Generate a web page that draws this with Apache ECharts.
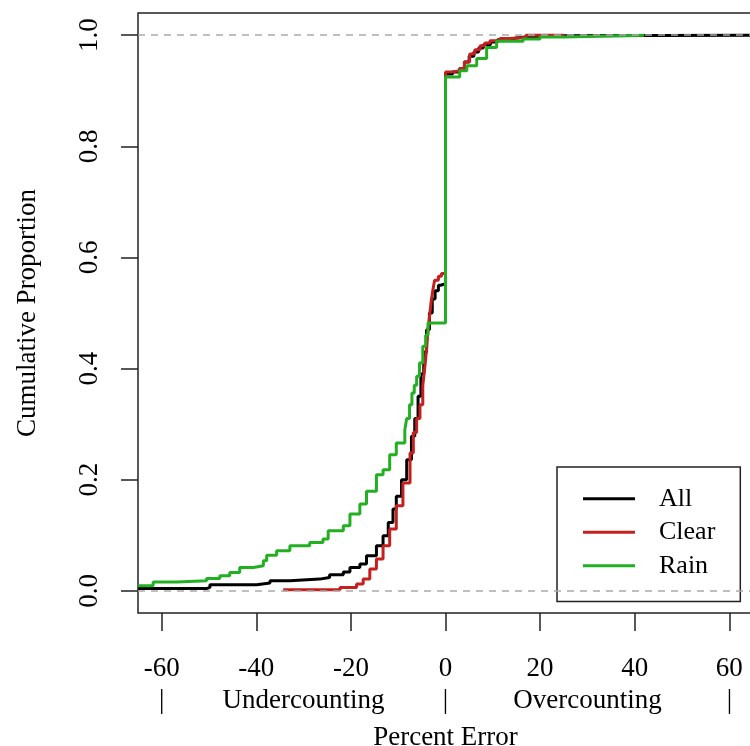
<!DOCTYPE html>
<html>
<head>
<meta charset="utf-8">
<script src="https://cdn.jsdelivr.net/npm/echarts@6/dist/echarts.min.js"></script>
<style>
  html, body { margin: 0; padding: 0; background: #fff; }
  #chart { width: 750px; height: 746px; }
</style>
</head>
<body>
<div id="chart"></div>
<script>
// cumulative proportion of percent error
const allX = [-65, -50.5, -49.8, -39.9, -37.1, -32.9, -26.6, -24.5, -21.6, -20.2, -18.1, -16.7, -14.6, -13.2, -12.1, -11.1, -10.4, -9.3, -8.2, -7.2, -6.5, -5.8, -5.2, -4.6, -4, -3.4, -2.8, -2.2, -1.5, -1, 0, 1.5, 3, 4, 5, 6, 7, 8, 9.5, 11, 13, 15, 17, 20, 25, 65]
const allY = [0.004, 0.006, 0.011, 0.014, 0.018, 0.021, 0.024, 0.029, 0.034, 0.042, 0.048, 0.063, 0.081, 0.099, 0.123, 0.147, 0.170, 0.200, 0.236, 0.278, 0.310, 0.350, 0.390, 0.430, 0.470, 0.500, 0.525, 0.540, 0.550, 0.553, 0.930, 0.934, 0.940, 0.952, 0.962, 0.970, 0.977, 0.983, 0.988, 0.992, 0.995, 0.997, 0.998, 0.999, 1.0, 1.0]

const clearX = [-34.3, -25.1, -22.3, -18.8, -17.4, -16, -14.6, -13.2, -11.8, -10.4, -9, -7.5, -6.8, -6.1, -5.4, -4.8, -4.4, -4, -3.7, -3.3, -3, -2.6, -2.3, -1.5, -0.85, 0, 1.5, 3, 4, 5.1, 6.2, 7.3, 8.3, 9.4, 11.5, 13.6, 17, 25]
const clearY = [0.002, 0.002, 0.006, 0.012, 0.021, 0.039, 0.057, 0.081, 0.111, 0.153, 0.194, 0.248, 0.285, 0.310, 0.335, 0.370, 0.400, 0.435, 0.470, 0.500, 0.523, 0.545, 0.559, 0.566, 0.571, 0.934, 0.936, 0.940, 0.952, 0.966, 0.974, 0.981, 0.986, 0.990, 0.994, 0.996, 1.0, 1.0]

const rainX = [-65, -61.8, -56.8, -50.5, -47.7, -45.6, -43.5, -40.6, -38.5, -37.8, -35.7, -32.9, -28.7, -25.9, -24.8, -21.6, -20.2, -18.1, -16.7, -14.6, -13.2, -11.8, -10.4, -8.6, -8.2, -7.6, -7.1, -6.6, -6.1, -5.5, -4.8, -4.2, -3.7, 0, 3, 4.5, 6.6, 8.7, 10.8, 16.4, 20, 25, 42]
const rainY = [0.009, 0.016, 0.018, 0.022, 0.027, 0.033, 0.042, 0.045, 0.054, 0.064, 0.072, 0.081, 0.087, 0.093, 0.108, 0.117, 0.138, 0.156, 0.179, 0.209, 0.218, 0.245, 0.266, 0.290, 0.310, 0.335, 0.356, 0.370, 0.386, 0.410, 0.440, 0.460, 0.482, 0.925, 0.936, 0.945, 0.958, 0.978, 0.989, 0.993, 0.997, 1.0, 1.0]

const seriesNames = ['All', 'Clear', 'Rain']
const xTicks = [-60, -40, -20, 0, 20, 40, 60]
const yTicks = [0, 0.2, 0.4, 0.6, 0.8, 1]
const sideTicks = [-60, -30, 0, 30, 60]
const sideLabels = ['|', 'Undercounting', '|', 'Overcounting', '|']
const refLines = [0, 1]

const font = "'Liberation Serif', 'DejaVu Serif', serif"

function toPairs(xs, ys) {
  return xs.map((x, i) => [x, ys[i]])
}

function makeSeries(name, xs, ys, color) {
  return {
    name: name,
    type: 'line',
    step: 'end',
    symbol: 'none',
    data: toPairs(xs, ys),
    lineStyle: { color: color, width: 3 },
    itemStyle: { color: color }
  }
}

const chart = echarts.init(document.getElementById('chart'))

// dashed reference lines drawn over the curves, like abline in R
const rain = makeSeries('Rain', rainX, rainY, '#22b022')
rain.markLine = {
  silent: true,
  symbol: 'none',
  label: { show: false },
  lineStyle: { color: '#aaaaaa', width: 1.5, type: [7, 6] },
  data: refLines.map((v) => ({ yAxis: v }))
}

chart.setOption({
  animation: false,
  backgroundColor: '#fff',
  grid: {
    left: 138,
    top: 13,
    width: 615,
    height: 600,
    show: true,
    borderColor: '#222',
    borderWidth: 1.5,
    outerBoundsMode: 'none'
  },
  legend: {
    data: seriesNames,
    orient: 'vertical',
    left: 557,
    top: 467,
    icon: 'rect',
    itemWidth: 52,
    itemHeight: 3,
    itemGap: 0,
    padding: [15, 25, 19, 26],
    borderColor: '#222',
    borderWidth: 1.5,
    backgroundColor: '#fff',
    selectedMode: false,
    textStyle: {
      fontFamily: font,
      fontSize: 26,
      color: '#000',
      lineHeight: 33.5,
      padding: [0, 0, 0, 19]
    }
  },
  xAxis: [
    {
      type: 'value',
      min: -65,
      max: 65,
      name: 'Percent Error',
      nameLocation: 'middle',
      nameGap: 111,
      nameTextStyle: { fontFamily: font, fontSize: 27, color: '#000' },
      axisLine: { show: false, onZero: false },
      splitLine: { show: false },
      axisTick: {
        customValues: xTicks,
        length: 18,
        lineStyle: { color: '#222', width: 1.5 }
      },
      axisLabel: {
        customValues: xTicks,
        margin: 42,
        fontFamily: font,
        fontSize: 27,
        color: '#000'
      }
    },
    {
      type: 'value',
      min: -65,
      max: 65,
      position: 'bottom',
      axisLine: { show: false, onZero: false },
      splitLine: { show: false },
      axisTick: { show: false },
      axisLabel: {
        customValues: sideTicks,
        margin: 74,
        fontFamily: font,
        fontSize: 27,
        color: '#000',
        formatter: (v) => sideLabels[sideTicks.indexOf(v)]
      }
    }
  ],
  yAxis: {
    type: 'value',
    min: -0.04,
    max: 1.04,
    name: 'Cumulative Proportion',
    nameLocation: 'middle',
    nameGap: 97,
    nameTextStyle: { fontFamily: font, fontSize: 27, color: '#000' },
    axisLine: { show: false, onZero: false },
    splitLine: { show: false },
    axisTick: {
      customValues: yTicks,
      length: 17,
      lineStyle: { color: '#222', width: 1.5 }
    },
    axisLabel: {
      customValues: yTicks,
      rotate: 90,
      margin: 35,
      fontFamily: font,
      fontSize: 27,
      color: '#000',
      formatter: (v) => v.toFixed(1)
    }
  },
  series: [
    makeSeries('All', allX, allY, '#000000'),
    makeSeries('Clear', clearX, clearY, '#c42020'),
    rain
  ]
})
</script>
</body>
</html>
